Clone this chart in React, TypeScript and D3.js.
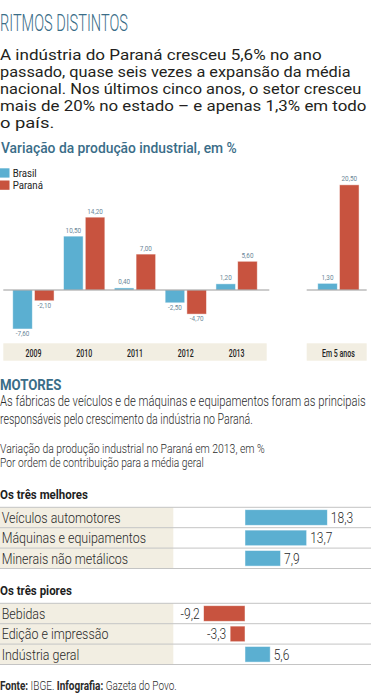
import React, { useLayoutEffect, useRef, useState } from "react";
import * as d3 from "d3";

// chart data
const years = ["2009", "2010", "2011", "2012", "2013"];
const seriesNames = ["Brasil", "Paraná"];
const brasilValues = [-7.6, 10.5, 0.4, -2.5, 1.2];
const paranaValues = [-2.1, 14.2, 7.0, -4.7, 5.6];
const fiveYearLabel = "Em 5 anos";
const fiveYearValues = [1.3, 20.5]; // Brasil, Paraná

const bestSectors = ["Veículos automotores", "Máquinas e equipamentos", "Minerais não metálicos"];
const bestValues = [18.3, 13.7, 7.9];
const worstSectors = ["Bebidas", "Edição e impressão", "Indústria geral"];
const worstValues = [-9.2, -3.3, 5.6];

const introLines = [
    "A indústria do Paraná cresceu 5,6% no ano",
    "passado, quase seis vezes a expansão da média",
    "nacional. Nos últimos cinco anos, o setor cresceu",
    "mais de 20% no estado – e apenas 1,3% em todo",
    "o país."
];
const introWidths = [322, 351, 361.7, 366.7, 54.3];

const W = 371;
const H = 694;
const FONT = "Roboto, 'Noto Sans', sans-serif";
const TEAL = "#3a6d88";
const BLUE = "#5bafd1";
const RED = "#c8533f";
const BEIGE = "#f2eee2";
const RULE = "#c4c4c4";

const colors: Record<string, string> = { Brasil: BLUE, "Paraná": RED };

const fmt2 = (v: number) => d3.format(".2f")(v).replace(".", ",").replace("−", "-");
const fmt1 = (v: number) => d3.format(".1f")(v).replace(".", ",").replace("−", "-");

// squeezed text, stands in for the condensed face of the original
const CText: React.FC<{
    x: number; y: number; sx?: number; anchor?: string; size: number;
    fill?: string; weight?: number | string; children: React.ReactNode;
}> = ({ x, y, sx = 1, anchor = "start", size, fill = "#222", weight = 400, children }) => (
    <text
        transform={`translate(${x},${y}) scale(${sx},1)`}
        textAnchor={anchor}
        fontSize={size}
        fill={fill}
        fontWeight={weight}
        fontFamily={FONT}
    >
        {children}
    </text>
);

// text squeezed to a measured width
const FitText: React.FC<{
    x: number; y: number; width: number; size: number;
    fill?: string; weight?: number | string; children: React.ReactNode;
}> = ({ x, y, width, size, fill = "#222", weight = 400, children }) => {
    const ref = useRef<SVGTextElement>(null);
    const [sx, setSx] = useState(1);
    useLayoutEffect(() => {
        if (!ref.current) return;
        const w = ref.current.getComputedTextLength();
        if (w > 0) setSx(width / w);
    }, [width, size, children]);
    return (
        <text
            ref={ref}
            transform={`translate(${x},${y}) scale(${sx},1)`}
            fontSize={size}
            fill={fill}
            fontWeight={weight}
            fontFamily={FONT}
        >
            {children}
        </text>
    );
};

const ColumnChart: React.FC = () => {
    const y = d3.scaleLinear().domain([-10, 22]).range([341.3, 177.14]);
    const x0 = d3.scaleBand().domain(years).range([8, 262]);
    const x5 = d3.scaleBand().domain([fiveYearLabel]).range([313, 363.8]);
    const x1 = d3.scaleBand().domain(seriesNames).range([4.75, 46.05]).paddingInner(0.1);

    const groups = [
        ...years.map((yr, i) => ({ key: yr, x: x0(yr) || 0, vals: [brasilValues[i], paranaValues[i]] })),
        { key: fiveYearLabel, x: x5(fiveYearLabel) || 0, vals: fiveYearValues }
    ];
    const zero = y(0);

    return (
        <g>
            {/* legend */}
            {seriesNames.map((s, i) => (
                <g key={s} transform={`translate(0,${168.3 + i * 12.2})`}>
                    <rect width={9.5} height={9.3} fill={colors[s]} />
                    <CText x={12.7} y={8.4} size={10.5} sx={0.92}>{s}</CText>
                </g>
            ))}

            {/* category strips */}
            <rect x={3.3} y={343.3} width={263.4} height={17.4} fill={BEIGE} />
            <rect x={306.7} y={343.3} width={60} height={17.4} fill={BEIGE} />

            {groups.map(g => (
                <g key={g.key} transform={`translate(${g.x},0)`}>
                    {seriesNames.map((s, j) => {
                        const v = g.vals[j];
                        const top = Math.min(y(v), zero);
                        const h = Math.abs(y(v) - zero);
                        const cx = (x1(s) || 0) + x1.bandwidth() / 2;
                        return (
                            <g key={s}>
                                <rect
                                    x={x1(s)}
                                    y={top}
                                    width={x1.bandwidth()}
                                    height={h}
                                    fill={colors[s]}
                                    stroke="#fff"
                                    strokeOpacity={0.6}
                                    strokeWidth={0.8}
                                />
                                <CText
                                    x={cx}
                                    y={v >= 0 ? y(v) - 3.5 : y(v) + 6.8}
                                    size={7.5}
                                    sx={0.85}
                                    anchor="middle"
                                    fill="#6b8799"
                                >
                                    {fmt2(v)}
                                </CText>
                            </g>
                        );
                    })}
                    <CText x={x0.bandwidth() / 2} y={356.6} size={10} sx={0.7} anchor="middle" weight={500}>
                        {g.key}
                    </CText>
                </g>
            ))}

            {/* zero lines */}
            <line x1={3.3} x2={269.3} y1={zero} y2={zero} stroke="#9a9a9a" strokeWidth={1} />
            <line x1={306.7} x2={366.7} y1={zero} y2={zero} stroke="#9a9a9a" strokeWidth={1} />
        </g>
    );
};

const SectorTable: React.FC<{ top: number; title: string; sectors: string[]; values: number[] }> = ({
    top, title, sectors, values
}) => {
    const x = d3.scaleLinear().domain([-10, 20]).range([200, 335]);
    const rows = d3.scaleBand().domain(sectors).range([top, top + 61.2]);
    const rh = rows.bandwidth();
    const x0 = x(0);

    return (
        <g>
            <CText x={0} y={top - 8.3} size={12.5} sx={0.92} weight={700} fill="#1e1e1e">{title}</CText>
            {sectors.map((s, i) => {
                const ry = rows(s) || 0;
                const v = values[i];
                const left = Math.min(x(v), x0);
                const bw = Math.abs(x(v) - x0);
                return (
                    <g key={s}>
                        <rect x={0} y={ry} width={173.3} height={rh} fill={BEIGE} />
                        <CText x={1.7} y={ry + 15.6} size={15} sx={0.83} weight={300} fill="#2a2a2a">{s}</CText>
                        <rect
                            x={left}
                            y={ry + 2.4}
                            width={bw}
                            height={rh - 4.8}
                            fill={v >= 0 ? BLUE : RED}
                            stroke="#fff"
                            strokeOpacity={0.6}
                            strokeWidth={0.8}
                        />
                        <CText
                            x={v >= 0 ? x(v) + 3.5 : x(v) - 4}
                            y={ry + 15.6}
                            size={15}
                            sx={0.8}
                            weight={300}
                            anchor={v >= 0 ? "start" : "end"}
                            fill="#2a2a2a"
                        >
                            {fmt1(v)}
                        </CText>
                    </g>
                );
            })}
            {[...sectors.map(s => rows(s) || 0), top + 61.2].map((ly, i) => (
                <line key={i} x1={0} x2={W} y1={ly} y2={ly} stroke={RULE} strokeWidth={1} />
            ))}
        </g>
    );
};

export default function App() {
    return (
        <div style={{ width: W, height: H, background: "#fff" }}>
            <style>{`body{margin:0;}`}</style>
            <svg width={W} height={H} style={{ display: "block" }}>
                <FitText x={0} y={31} width={128} size={23} weight={300} fill={TEAL}>
                    RITMOS DISTINTOS
                </FitText>

                {introLines.map((line, i) => (
                    <FitText key={i} x={0} y={59.5 + i * 17} width={introWidths[i]} size={14.5} fill="#231f20">
                        {line}
                    </FitText>
                ))}

                <FitText x={1} y={153.3} width={236} size={14} weight={500} fill={TEAL}>
                    Variação da produção industrial, em %
                </FitText>

                <ColumnChart />

                <FitText x={0} y={390} width={61.5} size={15} weight={700} fill={TEAL}>
                    MOTORES
                </FitText>
                <FitText x={0} y={405.5} width={366} size={14} weight={300} fill="#2a2a2a">
                    As fábricas de veículos e de máquinas e equipamentos foram as principais
                </FitText>
                <FitText x={0} y={423.5} width={253} size={14} weight={300} fill="#2a2a2a">
                    responsáveis pelo crescimento da indústria no Paraná.
                </FitText>
                <FitText x={0} y={453} width={265} size={12} weight={300} fill="#2a2a2a">
                    Variação da produção industrial no Paraná em 2013, em %
                </FitText>
                <FitText x={0} y={467} width={204} size={12} weight={300} fill="#2a2a2a">
                    Por ordem de contribuição para a média geral
                </FitText>

                <SectorTable top={507.3} title="Os três melhores" sectors={bestSectors} values={bestValues} />
                <SectorTable top={603.3} title="Os três piores" sectors={worstSectors} values={worstValues} />

                <text transform="translate(0,690) scale(0.8,1)" fontSize={12.5} fill="#2a2a2a" fontFamily={FONT}>
                    <tspan fontWeight={700}>Fonte:</tspan>
                    <tspan fontWeight={300}> IBGE. </tspan>
                    <tspan fontWeight={700}>Infografia:</tspan>
                    <tspan fontWeight={300}> Gazeta do Povo.</tspan>
                </text>
            </svg>
        </div>
    );
}
